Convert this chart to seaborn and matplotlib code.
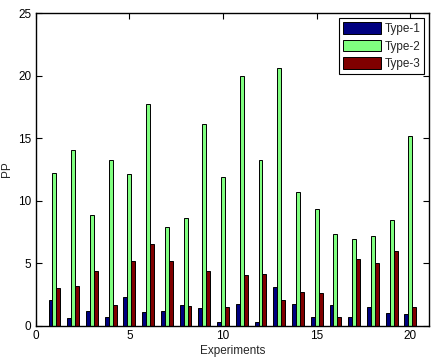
import numpy as np
import pandas as pd
import matplotlib
matplotlib.use("Agg")
import matplotlib.pyplot as plt
import matplotlib.patches as mpatches
import seaborn as sns

experiments = list(range(1, 21))
type1 = [2.05, 0.59, 1.17, 0.67, 2.29, 1.09, 1.17, 1.63, 1.39, 0.29,
         1.76, 0.29, 3.09, 1.71, 0.67, 1.63, 0.67, 1.49, 1.04, 0.91]
type2 = [12.19, 14.1, 8.83, 13.23, 12.13, 17.76, 7.89, 8.61, 16.16, 11.92,
         19.97, 13.23, 20.64, 10.67, 9.36, 7.31, 6.96, 7.15, 8.48, 15.2]
type3 = [3.01, 3.17, 4.4, 1.63, 5.2, 6.53, 5.2, 1.55, 4.4, 1.49,
         4.05, 4.11, 2.05, 2.69, 2.64, 0.67, 5.36, 5.04, 5.95, 1.49]
series_names = ["Type-1", "Type-2", "Type-3"]
colors = ["#000080", "#80ff80", "#800000"]

sns.set_style("ticks")
plt.rcParams['font.family'] = ['Liberation Sans', 'DejaVu Sans']

df = pd.DataFrame({
    "Experiments": experiments * 3,
    "PP": type1 + type2 + type3,
    "Type": sum([[n] * len(experiments) for n in series_names], []),
})

fig = plt.figure(figsize=(4.33, 3.58), dpi=100)
ax = fig.add_axes([0.0825, 0.090, 0.9085, 0.873])

sns.barplot(data=df, x="Experiments", y="PP", hue="Type", hue_order=series_names,
            palette=colors, native_scale=True, width=0.63, saturation=1,
            edgecolor="black", linewidth=0.7, errorbar=None, legend=False, ax=ax)

ax.set_xlim(0, 21)
ax.set_ylim(0, 25)
ax.set_xticks([0, 5, 10, 15, 20])
ax.set_yticks([0, 5, 10, 15, 20, 25])
ax.tick_params(direction="in", top=True, right=True, length=4, width=0.8,
               labelsize=8.5, colors="black", pad=3)
for s in ax.spines.values():
    s.set_visible(True)
    s.set_linewidth(1.0)
    s.set_color("black")
ax.set_xlabel("Experiments", fontsize=8.5, labelpad=2)
ax.set_ylabel("PP", fontsize=8.5, labelpad=4)

handles = [mpatches.Patch(facecolor=c, edgecolor="black", linewidth=0.7) for c in colors]
leg = ax.legend(handles, series_names, loc="upper right", fontsize=8.5, frameon=True,
                fancybox=False, edgecolor="black", framealpha=1,
                handlelength=3.2, handleheight=1.15, borderaxespad=0.4,
                labelspacing=0.4, handletextpad=0.3, borderpad=0.35)
leg.get_frame().set_linewidth(0.8)

fig.savefig("out.png", dpi=100)
